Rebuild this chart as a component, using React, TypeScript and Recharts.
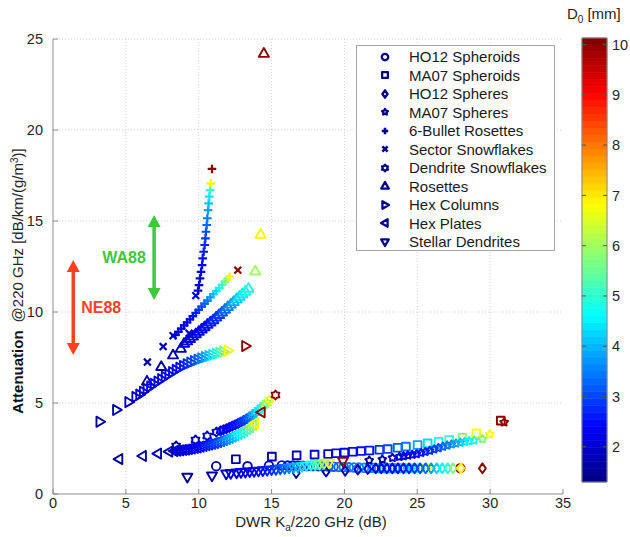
import {
  ScatterChart,
  Scatter,
  XAxis,
  YAxis,
  CartesianGrid,
  ReferenceLine,
  Legend,
  ComposedChart,
  ReferenceArea,
} from "recharts";

// [DWR Ka/220 GHz (dB), attenuation @220 GHz, D0 (mm)]
type Pt = [number, number, number];

const ho12Spheroids: Pt[] = [
  [11.2, 1.53, 1.6], [13.35, 1.52, 1.8], [14.82, 1.56, 2.0], [15.7, 1.57, 2.2], [16.1, 1.56, 2.3],
  [16.45, 1.56, 2.4], [16.8, 1.55, 2.5], [17.15, 1.55, 2.6], [17.5, 1.54, 2.7], [17.85, 1.54, 2.8],
  [18.2, 1.53, 2.9], [18.55, 1.52, 3.0], [18.9, 1.51, 3.1], [19.25, 1.5, 3.2], [19.6, 1.49, 3.3],
  [19.95, 1.48, 3.4], [20.3, 1.47, 3.4], [20.65, 1.46, 3.5], [21.0, 1.45, 3.5], [21.35, 1.44, 3.6],
  [21.7, 1.43, 3.6], [22.05, 1.43, 3.7], [22.4, 1.42, 3.7], [22.75, 1.42, 3.8], [23.1, 1.42, 3.9],
  [23.45, 1.42, 4.0], [23.8, 1.42, 4.1], [24.15, 1.42, 4.3], [24.5, 1.42, 4.5], [24.85, 1.42, 4.8],
  [25.2, 1.42, 5.4], [25.6, 1.42, 6.8], [27.95, 1.42, 10],
];

const ma07Spheroids: Pt[] = [
  [12.55, 1.91, 1.5], [15.02, 2.05, 1.7], [16.72, 2.12, 1.9], [17.95, 2.16, 2.0], [18.88, 2.2, 2.1],
  [19.43, 2.24, 2.2], [20.0, 2.27, 2.3], [20.57, 2.32, 2.4], [21.14, 2.36, 2.5], [21.71, 2.39, 2.6],
  [22.4, 2.43, 2.8], [22.97, 2.47, 3.0], [23.65, 2.54, 3.2], [24.22, 2.6, 3.4], [25.02, 2.69, 3.8],
  [25.71, 2.78, 4.3], [26.46, 2.87, 4.7], [27.19, 2.97, 5.1], [28.1, 3.09, 5.8], [29.06, 3.33, 6.8],
  [30.73, 4.03, 10],
];

const ho12Spheres: Pt[] = [
  [16.69, 1.15, 1.5], [18.74, 1.23, 1.7], [20.05, 1.28, 1.8], [20.92, 1.34, 1.9], [21.6, 1.37, 2.0],
  [22.15, 1.41, 2.1], [22.53, 1.41, 2.15], [22.91, 1.41, 2.2], [23.29, 1.41, 2.3], [23.67, 1.41, 2.4],
  [24.05, 1.41, 2.5], [24.43, 1.41, 2.6], [24.81, 1.41, 2.8], [25.19, 1.41, 3.0], [25.57, 1.41, 3.3],
  [25.95, 1.41, 3.7], [26.33, 1.41, 4.2], [26.71, 1.41, 4.6], [27.09, 1.41, 5.0], [27.45, 1.41, 5.7],
  [27.99, 1.41, 6.9], [29.47, 1.41, 10],
];

const ma07Spheres: Pt[] = [
  [21.7, 1.85, 1.5], [22.6, 1.9, 1.7], [23.3, 1.99, 1.9], [23.77, 2.05, 2.0], [24.05, 2.08, 2.1],
  [24.35, 2.12, 2.2], [24.65, 2.16, 2.3], [24.95, 2.2, 2.4], [25.25, 2.26, 2.5], [25.55, 2.32, 2.6],
  [25.85, 2.38, 2.7], [26.15, 2.46, 2.8], [26.45, 2.53, 3.0], [26.75, 2.6, 3.2], [27.05, 2.67, 3.4],
  [27.35, 2.73, 3.6], [27.65, 2.78, 3.8], [27.95, 2.83, 4.0], [28.25, 2.87, 4.3], [28.55, 2.91, 4.6],
  [28.9, 2.94, 4.9], [29.47, 3.02, 5.7], [29.98, 3.28, 6.8], [30.96, 3.94, 10],
];

const bulletRosettes: Pt[] = [
  [8.4, 8.74, 1.9], [8.6, 8.91, 2.0], [8.8, 9.09, 2.1], [9.0, 9.26, 2.2], [9.2, 9.43, 2.3],
  [9.4, 9.6, 2.4], [9.6, 9.77, 2.5], [9.8, 9.95, 2.6], [10.0, 10.12, 2.8], [10.2, 10.29, 3.0],
  [10.4, 10.46, 3.2], [10.6, 10.63, 3.4], [10.8, 10.81, 3.7], [11.0, 10.98, 4.0], [11.2, 11.15, 4.3],
  [11.4, 11.32, 4.6], [11.6, 11.49, 5.0], [11.8, 11.67, 5.5], [11.95, 11.8, 6.0], [12.12, 11.94, 6.9],
  [9.95, 11.17, 2.0], [10.02, 11.48, 2.1], [10.09, 11.85, 2.2], [10.16, 12.21, 2.3], [10.23, 12.58, 2.4],
  [10.27, 12.95, 2.5], [10.34, 13.31, 2.6], [10.41, 13.68, 2.7], [10.46, 14.05, 2.9], [10.5, 14.41, 3.1],
  [10.55, 14.78, 3.3], [10.59, 15.15, 3.5], [10.64, 15.6, 3.8], [10.68, 15.97, 4.1], [10.73, 16.34, 4.4],
  [10.78, 16.7, 5.0], [10.82, 17.07, 6.9], [10.91, 17.86, 10],
];

const sectorSnowflakes: Pt[] = [
  [6.48, 7.25, 1.5], [7.56, 8.1, 1.7], [8.24, 8.7, 1.9], [9.34, 8.83, 2.1], [9.8, 10.9, 2.3],
  [12.68, 12.3, 10],
];

const dendriteSnowflakes: Pt[] = [
  [8.45, 2.64, 1.5], [9.78, 2.97, 1.7], [10.58, 3.19, 1.9], [11.21, 3.4, 2.0], [11.5, 3.47, 2.1],
  [11.7, 3.53, 2.15], [11.9, 3.59, 2.2], [12.1, 3.66, 2.3], [12.3, 3.73, 2.4], [12.5, 3.8, 2.5],
  [12.7, 3.88, 2.6], [12.9, 3.96, 2.75], [13.1, 4.05, 2.9], [13.3, 4.14, 3.1], [13.5, 4.24, 3.4],
  [13.7, 4.35, 3.8], [13.9, 4.47, 4.1], [14.1, 4.6, 4.4], [14.3, 4.74, 4.8], [14.48, 4.87, 5.3],
  [14.65, 5.0, 5.9], [14.86, 5.16, 6.7], [15.27, 5.44, 10],
];

const rosettes: Pt[] = [
  [6.45, 6.2, 1.5], [7.43, 7.0, 1.6], [8.24, 7.64, 1.8], [8.77, 8.0, 1.9], [9.0, 8.28, 2.0],
  [9.2, 8.41, 2.05], [9.4, 8.54, 2.1], [9.6, 8.67, 2.15], [9.8, 8.8, 2.2], [10.0, 8.93, 2.3],
  [10.2, 9.06, 2.35], [10.4, 9.19, 2.4], [10.6, 9.32, 2.5], [10.8, 9.45, 2.6], [11.0, 9.57, 2.7],
  [11.2, 9.72, 2.8], [11.4, 9.86, 2.95], [11.6, 10.0, 3.1], [11.8, 10.15, 3.3], [12.0, 10.29, 3.5],
  [12.2, 10.43, 3.7], [12.4, 10.57, 3.9], [12.6, 10.72, 4.1], [12.8, 10.86, 4.3], [13.0, 11.0, 4.5],
  [13.2, 11.14, 4.7], [13.42, 11.3, 4.9], [13.88, 12.25, 6.0], [14.25, 14.27, 6.9], [14.47, 24.21, 10],
];

const hexColumns: Pt[] = [
  [3.22, 3.97, 1.5], [4.36, 4.62, 1.7], [5.2, 5.05, 1.9], [5.68, 5.33, 2.0], [5.95, 5.46, 2.0],
  [6.2, 5.62, 2.05], [6.45, 5.77, 2.1], [6.7, 5.91, 2.1], [6.95, 6.05, 2.15], [7.2, 6.18, 2.2],
  [7.45, 6.31, 2.2], [7.7, 6.44, 2.25], [7.95, 6.57, 2.3], [8.2, 6.7, 2.35], [8.45, 6.82, 2.4],
  [8.7, 6.94, 2.5], [8.95, 7.04, 2.6], [9.2, 7.13, 2.7], [9.45, 7.22, 2.85], [9.7, 7.3, 3.0],
  [9.95, 7.38, 3.2], [10.2, 7.45, 3.5], [10.45, 7.52, 3.8], [10.7, 7.58, 4.1], [10.95, 7.64, 4.4],
  [11.2, 7.7, 4.8], [11.45, 7.76, 5.2], [11.7, 7.82, 5.8], [12.02, 7.88, 6.9], [13.22, 8.13, 10],
];

const hexPlates: Pt[] = [
  [4.52, 1.92, 1.5], [6.14, 2.09, 1.6], [7.18, 2.22, 1.7], [7.95, 2.33, 1.8], [8.3, 2.36, 1.9],
  [8.5, 2.38, 1.95], [8.7, 2.4, 2.0], [8.9, 2.42, 2.05], [9.1, 2.44, 2.1], [9.3, 2.47, 2.15],
  [9.5, 2.5, 2.2], [9.7, 2.53, 2.25], [9.9, 2.56, 2.3], [10.1, 2.6, 2.4], [10.3, 2.64, 2.5],
  [10.5, 2.68, 2.6], [10.7, 2.72, 2.7], [10.9, 2.76, 2.8], [11.1, 2.8, 2.9], [11.3, 2.85, 3.0],
  [11.5, 2.9, 3.2], [11.7, 2.96, 3.4], [11.9, 3.02, 3.6], [12.1, 3.08, 3.8], [12.3, 3.15, 4.0],
  [12.5, 3.22, 4.25], [12.7, 3.3, 4.5], [12.9, 3.38, 4.75], [13.1, 3.47, 5.0], [13.3, 3.56, 5.3],
  [13.5, 3.66, 5.6], [13.7, 3.78, 6.1], [13.84, 3.9, 6.9], [14.29, 4.49, 10],
];

const stellarDendrites: Pt[] = [
  [9.22, 0.92, 1.5], [10.91, 0.99, 1.7], [11.89, 1.1, 1.9], [12.2, 1.13, 2.0], [12.6, 1.16, 2.05],
  [12.9, 1.18, 2.1], [13.2, 1.2, 2.15], [13.5, 1.22, 2.2], [13.8, 1.24, 2.3], [14.1, 1.26, 2.4],
  [14.4, 1.28, 2.5], [14.7, 1.3, 2.6], [15.0, 1.33, 2.75], [15.3, 1.35, 2.9], [15.6, 1.38, 3.1],
  [15.9, 1.4, 3.3], [16.2, 1.43, 3.6], [16.5, 1.46, 3.8], [16.8, 1.49, 4.0], [17.1, 1.52, 4.3],
  [17.4, 1.55, 4.6], [17.7, 1.58, 4.9], [18.0, 1.61, 5.2], [18.3, 1.64, 5.6], [18.6, 1.67, 6.0],
  [18.93, 1.7, 6.9], [19.9, 1.8, 10],
];

const xTicks = [0, 5, 10, 15, 20, 25, 30, 35];
const yTicks = [0, 5, 10, 15, 20, 25];
const d0Ticks = [2, 3, 4, 5, 6, 7, 8, 9, 10];
const d0Range: [number, number] = [1.3, 10.13];

// double-headed arrows for the reference ranges
const wa88 = [{ x: 6.94, y: 10.66 }, { x: 6.94, y: 15.33 }];
const ne88 = [{ x: 1.39, y: 7.64 }, { x: 1.39, y: 12.86 }];

const series = [
  { name: "HO12 Spheroids", kind: "o", pts: ho12Spheroids },
  { name: "MA07 Spheroids", kind: "s", pts: ma07Spheroids },
  { name: "HO12 Spheres", kind: "d", pts: ho12Spheres },
  { name: "MA07 Spheres", kind: "p", pts: ma07Spheres },
  { name: "6-Bullet Rosettes", kind: "+", pts: bulletRosettes },
  { name: "Sector Snowflakes", kind: "x", pts: sectorSnowflakes },
  { name: "Dendrite Snowflakes", kind: "h", pts: dendriteSnowflakes },
  { name: "Rosettes", kind: "^", pts: rosettes },
  { name: "Hex Columns", kind: ">", pts: hexColumns },
  { name: "Hex Plates", kind: "<", pts: hexPlates },
  { name: "Stellar Dendrites", kind: "v", pts: stellarDendrites },
];

const FONT = "'Liberation Sans', Arial, sans-serif";
const TEXT = "#262626";
const AXIS = "#8c8c8c";

function jet(d0: number) {
  const t = Math.min(1, Math.max(0, (d0 - d0Range[0]) / (d0Range[1] - d0Range[0])));
  const c = (v: number) => Math.round(255 * Math.min(1, Math.max(0, v)));
  return `rgb(${c(1.5 - Math.abs(4 * t - 3))},${c(1.5 - Math.abs(4 * t - 2))},${c(1.5 - Math.abs(4 * t - 1))})`;
}

function star(cx: number, cy: number, n: number, R: number, r: number) {
  const out: string[] = [];
  for (let i = 0; i < 2 * n; i++) {
    const a = -Math.PI / 2 + (i * Math.PI) / n;
    const rad = i % 2 ? r : R;
    out.push(`${(cx + rad * Math.cos(a)).toFixed(2)},${(cy + rad * Math.sin(a)).toFixed(2)}`);
  }
  return out.join(" ");
}

function Marker({ kind, cx, cy, color, k = 1, sw = 1.9 }: any) {
  const p = { fill: "none", stroke: color, strokeWidth: sw, strokeLinejoin: "round" as const };
  const s = 4.3 * k;
  const t = 4.6 * k;
  switch (kind) {
    case "o":
      return <circle cx={cx} cy={cy} r={s} {...p} />;
    case "s":
      return <rect x={cx - s * 0.9} y={cy - s * 0.9} width={s * 1.8} height={s * 1.8} {...p} />;
    case "d":
      return <polygon points={`${cx},${cy - s * 1.15} ${cx + s * 0.8},${cy} ${cx},${cy + s * 1.15} ${cx - s * 0.8},${cy}`} {...p} />;
    case "p":
      return <polygon points={star(cx, cy, 5, s * 0.95, s * 0.55)} {...p} />;
    case "h":
      return <polygon points={star(cx, cy, 6, s * 1.05, s * 0.7)} {...p} />;
    case "+":
      return <path d={`M${cx - s},${cy}H${cx + s}M${cx},${cy - s}V${cy + s}`} {...p} strokeWidth={sw + 0.3} />;
    case "x": {
      const h = s * 0.8;
      return <path d={`M${cx - h},${cy - h}L${cx + h},${cy + h}M${cx - h},${cy + h}L${cx + h},${cy - h}`} {...p} strokeWidth={sw + 0.3} />;
    }
    case "^":
      return <polygon points={`${cx},${cy - t * 1.15} ${cx + t * 1.1},${cy + t * 0.75} ${cx - t * 1.1},${cy + t * 0.75}`} {...p} />;
    case "v":
      return <polygon points={`${cx},${cy + t * 1.15} ${cx + t * 1.1},${cy - t * 0.75} ${cx - t * 1.1},${cy - t * 0.75}`} {...p} />;
    case ">":
      return <polygon points={`${cx + t * 1.15},${cy} ${cx - t * 0.75},${cy - t * 1.1} ${cx - t * 0.75},${cy + t * 1.1}`} {...p} />;
    case "<":
      return <polygon points={`${cx - t * 1.15},${cy} ${cx + t * 0.75},${cy - t * 1.1} ${cx + t * 0.75},${cy + t * 1.1}`} {...p} />;
    default:
      return null;
  }
}

const XTick = ({ x, y, payload }: any) => (
  <g>
    <line x1={x} y1={y - 4} x2={x} y2={y - 9} stroke={AXIS} />
    <text x={x} y={y} dy="0.72em" textAnchor="middle" fontSize={14.5} fill={TEXT}>
      {payload.value}
    </text>
  </g>
);

const YTick = ({ x, y, payload }: any) => (
  <g>
    <line x1={x + 10} y1={y} x2={x + 15} y2={y} stroke={AXIS} />
    <text x={x} y={y} dy="0.36em" textAnchor="end" fontSize={14.5} fill={TEXT}>
      {payload.value}
    </text>
  </g>
);

const CbTick = ({ x, y, payload }: any) => (
  <g>
    <line x1={x - 9} y1={y} x2={x - 5} y2={y} stroke="#555" />
    <line x1={x - 30} y1={y} x2={x - 26} y2={y} stroke="#555" />
    <text x={x} y={y} dy="0.36em" textAnchor="start" fontSize={14.5} fill={TEXT}>
      {payload.value}
    </text>
  </g>
);

const XLabel = () => (
  <text x={311} y={527} textAnchor="middle" fontSize={15} fill={TEXT}>
    DWR K<tspan dy={4} fontSize={10}>a</tspan>
    <tspan dy={-4}>/220 GHz (dB)</tspan>
  </text>
);

const YLabel = () => (
  <text transform="rotate(-90 18 281)" x={18} y={281} dy="0.35em" textAnchor="middle" fontSize={15} fill={TEXT}>
    <tspan fontWeight="bold" fill="#111">Attenuation</tspan>
    <tspan dx={8}>@220 GHz [dB/km/(g/m</tspan>
    <tspan dy={-5} fontSize={10}>3</tspan>
    <tspan dy={5}>)]</tspan>
  </text>
);

const CbLabel = () => (
  <text x={7} y={19} fontSize={15} fill={TEXT}>
    D<tspan dy={4} fontSize={10}>0</tspan>
    <tspan dy={-4} dx={4}>[mm]</tspan>
  </text>
);

const arrow = (color: string, label: string, dx: number) => (p: any) => {
  const { x1, y1, y2 } = p;
  const top = Math.min(y1, y2);
  const bot = Math.max(y1, y2);
  const h = 12;
  const w = 6.5;
  return (
    <g>
      <line x1={x1} y1={top + h - 1} x2={x1} y2={bot - h + 1} stroke={color} strokeWidth={3.5} />
      <polygon points={`${x1},${top} ${x1 - w},${top + h} ${x1 + w},${top + h}`} fill={color} />
      <polygon points={`${x1},${bot} ${x1 - w},${bot - h} ${x1 + w},${bot - h}`} fill={color} />
      <text x={x1 + dx} y={(top + bot) / 2} dy="0.36em" textAnchor="middle" fill={color} fontSize={16} fontWeight="bold">
        {label}
      </text>
    </g>
  );
};

const LegendBox = () => (
  <div style={{ width: 197, height: 204, border: "1px solid #a6a6a6", background: "#fff", position: "relative", fontFamily: FONT }}>
    {series.map((s, i) => (
      <div
        key={s.name}
        style={{ position: "absolute", left: 0, top: 1.7 + i * 18.5, height: 18, display: "flex", alignItems: "center" }}
      >
        <svg width={50} height={18}>
          <Marker kind={s.kind} cx={28} cy={9} color="#00008f" k={0.75} sw={2.3} />
        </svg>
        <span style={{ fontSize: 15, color: "#1a1a1a", marginLeft: 2, whiteSpace: "nowrap" }}>{s.name}</span>
      </div>
    ))}
  </div>
);

const bandCount = 64;
const bands = Array.from({ length: bandCount }, (_, i) => {
  const lo = d0Range[0] + ((d0Range[1] - d0Range[0]) * i) / bandCount;
  const hi = d0Range[0] + ((d0Range[1] - d0Range[0]) * (i + 1)) / bandCount;
  return { lo, hi, color: jet((lo + hi) / 2) };
});
const cbFrame = [{ x: 0, y: d0Range[0] }, { x: 1, y: d0Range[1] }];

export default function App() {
  return (
    <div style={{ position: "absolute", left: 0, top: 0, width: 630, height: 537, background: "#fff", fontFamily: FONT }}>
      <div style={{ position: "absolute", left: 0, top: 0 }}>
        <ScatterChart width={630} height={537} margin={{ top: 39, right: 67, bottom: 13, left: 13 }}>
          <CartesianGrid
            stroke="#cfcfcf"
            strokeDasharray="1 2"
            verticalValues={[5, 10, 15, 20, 25, 30]}
            horizontalValues={[5, 10, 15, 20, 25]}
          />
          <XAxis
            type="number"
            dataKey="x"
            domain={[0, 35]}
            ticks={xTicks}
            height={30}
            tickSize={0}
            tickMargin={4}
            tick={XTick}
            stroke={AXIS}
            label={XLabel}
            allowDataOverflow
          />
          <YAxis
            type="number"
            dataKey="y"
            domain={[0, 25]}
            ticks={yTicks}
            width={40}
            tickSize={0}
            tickMargin={10}
            tick={YTick}
            stroke={AXIS}
            label={YLabel}
            allowDataOverflow
          />
          <ReferenceLine segment={ne88} shape={arrow("#ff4122", "NE88", 28)} />
          <ReferenceLine segment={wa88} shape={arrow("#3ec83e", "WA88", -30)} />
          {series.map((s) => (
            <Scatter
              key={s.name}
              name={s.name}
              data={s.pts.map(([x, y, d]) => ({ x, y, d }))}
              isAnimationActive={false}
              shape={(props: any) => (
                <Marker kind={s.kind} cx={props.cx} cy={props.cy} color={jet(props.payload.d)} />
              )}
            />
          ))}
          <Legend
            layout="vertical"
            align="center"
            verticalAlign="middle"
            wrapperStyle={{ left: 356, top: 45, width: 199 }}
            content={() => <LegendBox />}
          />
        </ScatterChart>
      </div>
      <div style={{ position: "absolute", left: 560, top: 0 }}>
        <ComposedChart width={70} height={537} data={cbFrame} margin={{ top: 38, right: 0, bottom: 55, left: 22 }}>
          <XAxis type="number" dataKey="x" domain={[0, 1]} hide />
          <YAxis
            type="number"
            dataKey="y"
            orientation="right"
            domain={d0Range}
            ticks={d0Ticks}
            width={23}
            tickSize={0}
            tickMargin={5}
            tick={CbTick}
            axisLine={false}
            label={CbLabel}
            allowDataOverflow
          />
          {bands.map((b, i) => (
            <ReferenceArea
              key={i}
              y1={b.lo}
              y2={b.hi}
              fill={b.color}
              fillOpacity={1}
              stroke={b.color}
              strokeWidth={0.6}
              ifOverflow="visible"
            />
          ))}
          <ReferenceArea y1={d0Range[0]} y2={d0Range[1]} fill="none" stroke="#888" ifOverflow="visible" />
        </ComposedChart>
      </div>
    </div>
  );
}
